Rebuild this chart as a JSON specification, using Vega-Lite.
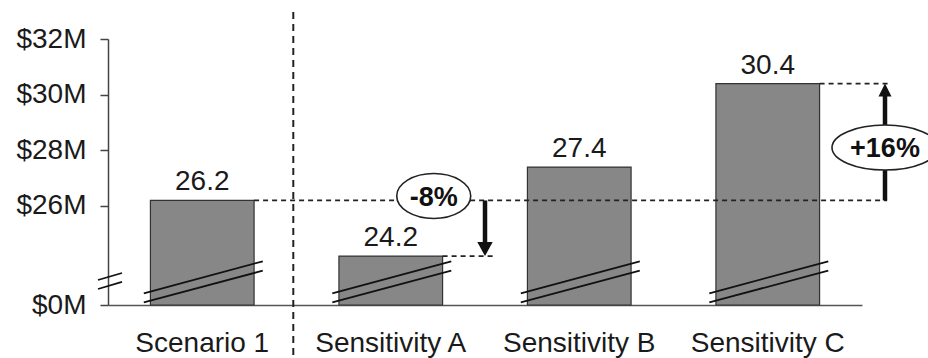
{
  "$schema": "https://vega.github.io/schema/vega-lite/v6.json",
  "width": 754,
  "height": 266,
  "autosize": {"type": "none"},
  "padding": {"left": 108, "top": 39, "right": 66, "bottom": 53},
  "background": "white",
  "config": {
    "view": {"stroke": null},
    "font": "Liberation Sans",
    "text": {"font": "Liberation Sans"}
  },
  "datasets": {
    "main": [
      {"cat": "Scenario 1", "value": 26.2},
      {"cat": "Sensitivity A", "value": 24.2},
      {"cat": "Sensitivity B", "value": 27.4},
      {"cat": "Sensitivity C", "value": 30.4}
    ],
    "vline": [{"x": 0.983, "y": 32.97, "y2": 20.5}],
    "hlines": [
      {"x": 0.775, "x2": 4.133, "y": 26.2},
      {"x": 1.775, "x2": 2.042, "y": 24.2},
      {"x": 3.775, "x2": 4.149, "y": 30.4}
    ],
    "breaks": [
      {"x": -0.053, "x2": 0.0743, "y": 23.341, "y2": 23.593},
      {"x": -0.053, "x2": 0.0743, "y": 23.018, "y2": 23.27},
      {"x": 0.19, "x2": 0.821, "y": 22.863, "y2": 24.013},
      {"x": 0.19, "x2": 0.821, "y": 22.54, "y2": 23.675},
      {"x": 1.19, "x2": 1.821, "y": 22.863, "y2": 24.013},
      {"x": 1.19, "x2": 1.821, "y": 22.54, "y2": 23.675},
      {"x": 2.19, "x2": 2.821, "y": 22.863, "y2": 24.013},
      {"x": 2.19, "x2": 2.821, "y": 22.54, "y2": 23.675},
      {"x": 3.19, "x2": 3.821, "y": 22.863, "y2": 24.013},
      {"x": 3.19, "x2": 3.821, "y": 22.54, "y2": 23.675}
    ],
    "shafts": [
      {"x": 2.0, "y": 26.2, "y2": 24.55},
      {"x": 4.122, "y": 26.2, "y2": 30.05}
    ],
    "headDown": [{"x": 2.0, "y": 24.2}],
    "headUp": [{"x": 4.122, "y": 30.4}],
    "ellSmall": [{"x": 1.728, "y": 26.36, "label": "-8%"}],
    "ellBig": [{"x": 4.122, "y": 28.1, "label": "+16%"}]
  },
  "resolve": {"scale": {"x": "independent"}, "axis": {"x": "independent"}},
  "layer": [
    {
      "data": {"name": "main"},
      "encoding": {
        "x": {
          "field": "cat", "type": "nominal", "sort": null, "title": null,
          "scale": {"paddingInner": 0.45, "paddingOuter": 0.225},
          "axis": {
            "labelAngle": 0, "ticks": false, "labelFontSize": 28, "labelColor": "#1a1a1a",
            "labelPadding": 24, "domainColor": "#555", "domainWidth": 1.5,
            "labelFont": "Liberation Sans"
          }
        },
        "y": {
          "field": "value", "type": "quantitative", "title": null,
          "scale": {"domain": [22.443, 32], "nice": false, "zero": false},
          "axis": {
            "values": [22.443, 26, 28, 30, 32],
            "labelExpr": "datum.value < 25 ? '$0M' : '$' + format(datum.value, 'd') + 'M'",
            "grid": false, "tickSize": 8, "tickColor": "#444", "domainColor": "#444",
            "domainWidth": 1.5, "tickWidth": 1.5,
            "labelFontSize": 28, "labelColor": "#1a1a1a", "labelPadding": 14,
            "labelFont": "Liberation Sans"
          }
        }
      },
      "layer": [
        {
          "mark": {"type": "bar", "fill": "#878787", "stroke": "#333", "strokeWidth": 1.2},
          "encoding": {"y2": {"datum": 22.443}}
        },
        {
          "mark": {"type": "text", "dy": -10, "baseline": "alphabetic", "fontSize": 28, "color": "#1a1a1a"},
          "encoding": {"text": {"field": "value", "type": "quantitative", "format": ".1f"}}
        }
      ]
    },
    {
      "layer": [
        {
          "data": {"name": "vline"},
          "mark": {"type": "rule", "strokeDash": [7, 5], "strokeWidth": 2, "color": "#222", "clip": false},
          "encoding": {
            "x": {"field": "x", "type": "quantitative", "scale": {"domain": [0, 4], "nice": false, "zero": false}, "axis": null},
            "y": {"field": "y", "type": "quantitative", "title": null, "scale": {"domain": [22.443, 32], "nice": false, "zero": false}},
            "y2": {"field": "y2"}
          }
        },
        {
          "data": {"name": "hlines"},
          "mark": {"type": "rule", "strokeDash": [5, 4], "strokeWidth": 1.8, "color": "#222"},
          "encoding": {
            "x": {"field": "x", "type": "quantitative", "scale": {"domain": [0, 4], "nice": false, "zero": false}, "axis": null},
            "x2": {"field": "x2"},
            "y": {"field": "y", "type": "quantitative", "title": null, "scale": {"domain": [22.443, 32], "nice": false, "zero": false}}
          }
        },
        {
          "data": {"name": "breaks"},
          "mark": {"type": "rule", "strokeWidth": 1.8, "color": "#111"},
          "encoding": {
            "x": {"field": "x", "type": "quantitative", "scale": {"domain": [0, 4], "nice": false, "zero": false}, "axis": null},
            "x2": {"field": "x2"},
            "y": {"field": "y", "type": "quantitative", "title": null, "scale": {"domain": [22.443, 32], "nice": false, "zero": false}},
            "y2": {"field": "y2"}
          }
        },
        {
          "data": {"name": "shafts"},
          "mark": {"type": "rule", "strokeWidth": 4.5, "color": "#111"},
          "encoding": {
            "x": {"field": "x", "type": "quantitative", "scale": {"domain": [0, 4], "nice": false, "zero": false}, "axis": null},
            "y": {"field": "y", "type": "quantitative", "title": null, "scale": {"domain": [22.443, 32], "nice": false, "zero": false}},
            "y2": {"field": "y2"}
          }
        },
        {
          "data": {"name": "headDown"},
          "mark": {"type": "point", "shape": "M-0.55,-1L0.55,-1L0,0Z", "size": 784, "filled": true, "fill": "#111", "opacity": 1, "strokeWidth": 0},
          "encoding": {
            "x": {"field": "x", "type": "quantitative", "scale": {"domain": [0, 4], "nice": false, "zero": false}, "axis": null},
            "y": {"field": "y", "type": "quantitative", "title": null, "scale": {"domain": [22.443, 32], "nice": false, "zero": false}}
          }
        },
        {
          "data": {"name": "headUp"},
          "mark": {"type": "point", "shape": "M-0.5,1L0.5,1L0,0Z", "size": 676, "filled": true, "fill": "#111", "opacity": 1, "strokeWidth": 0},
          "encoding": {
            "x": {"field": "x", "type": "quantitative", "scale": {"domain": [0, 4], "nice": false, "zero": false}, "axis": null},
            "y": {"field": "y", "type": "quantitative", "title": null, "scale": {"domain": [22.443, 32], "nice": false, "zero": false}}
          }
        },
        {
          "data": {"name": "ellSmall"},
          "layer": [
            {
              "mark": {"type": "point", "shape": "M-1,0A1,0.608,0,1,1,1,0A1,0.608,0,1,1,-1,0Z", "size": 5476, "filled": true, "fill": "white", "stroke": "#222", "strokeWidth": 1.6, "opacity": 1, "fillOpacity": 1, "strokeOpacity": 1}
            },
            {
              "mark": {"type": "text", "fontSize": 27, "fontWeight": "bold", "color": "#111", "baseline": "middle", "dy": 2},
              "encoding": {"text": {"field": "label"}}
            }
          ],
          "encoding": {
            "x": {"field": "x", "type": "quantitative", "scale": {"domain": [0, 4], "nice": false, "zero": false}, "axis": null},
            "y": {"field": "y", "type": "quantitative", "title": null, "scale": {"domain": [22.443, 32], "nice": false, "zero": false}}
          }
        },
        {
          "data": {"name": "ellBig"},
          "layer": [
            {
              "mark": {"type": "point", "shape": "M-1,0A1,0.4245,0,1,1,1,0A1,0.4245,0,1,1,-1,0Z", "size": 11236, "filled": true, "fill": "white", "stroke": "#222", "strokeWidth": 1.6, "opacity": 1, "fillOpacity": 1, "strokeOpacity": 1}
            },
            {
              "mark": {"type": "text", "fontSize": 27, "fontWeight": "bold", "color": "#111", "baseline": "middle", "dy": 1},
              "encoding": {"text": {"field": "label"}}
            }
          ],
          "encoding": {
            "x": {"field": "x", "type": "quantitative", "scale": {"domain": [0, 4], "nice": false, "zero": false}, "axis": null},
            "y": {"field": "y", "type": "quantitative", "title": null, "scale": {"domain": [22.443, 32], "nice": false, "zero": false}}
          }
        }
      ]
    }
  ]
}
